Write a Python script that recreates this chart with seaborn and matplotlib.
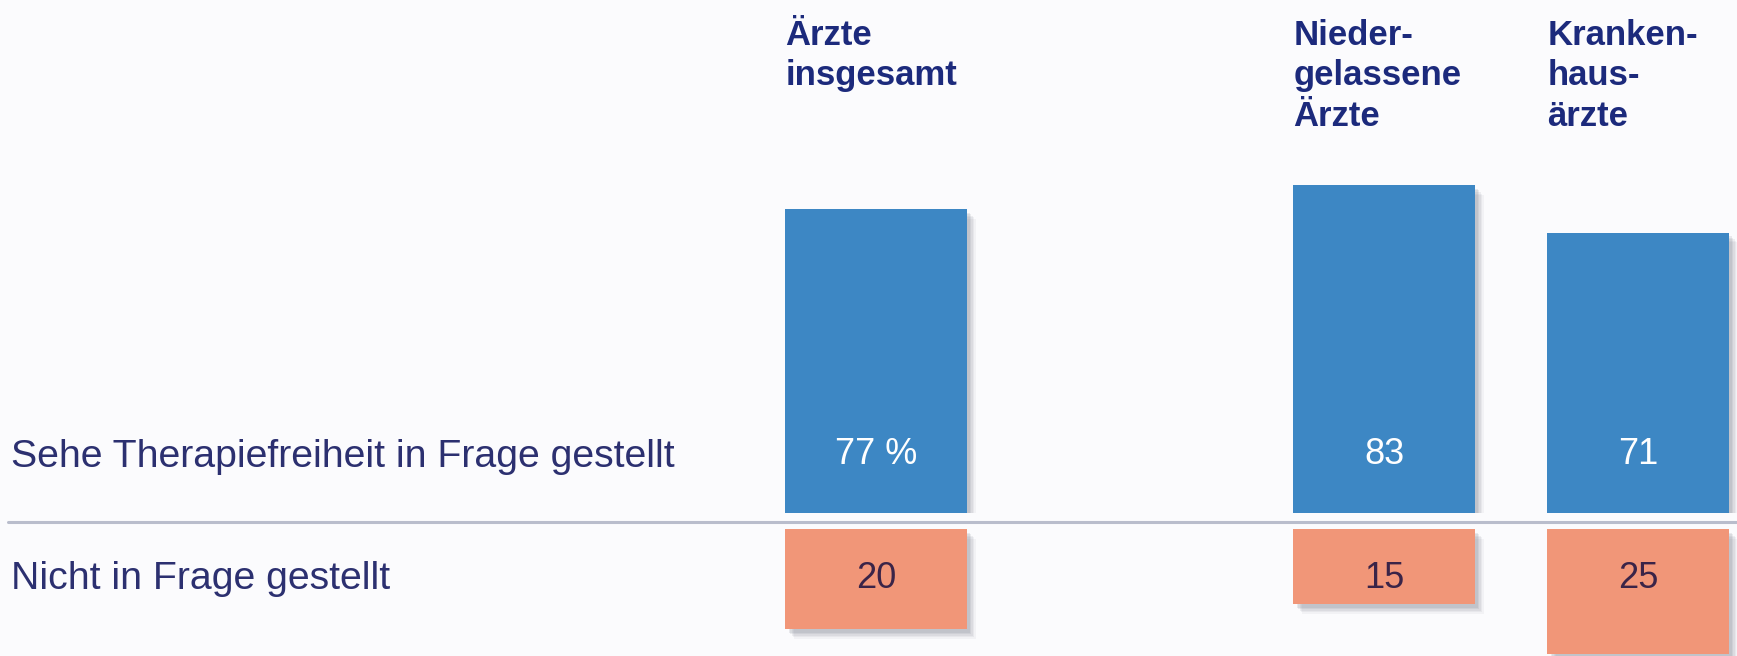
import matplotlib
matplotlib.use("Agg")
import matplotlib.pyplot as plt
import seaborn as sns
import pandas as pd
from matplotlib import font_manager as fm, patheffects as pe
from matplotlib.transforms import blended_transform_factory
from matplotlib.lines import Line2D

# ---- data ----
groups = ["Ärzte insgesamt", "Niedergelassene Ärzte", "Krankenhausärzte"]
header_labels = ["Ärzte\ninsgesamt", "Nieder-\ngelassene\nÄrzte", "Kranken-\nhaus-\närzte"]
questioned = [77, 83, 71]
not_questioned = [20, 15, 25]
top_value_labels = ["77 %", "83", "71"]
bottom_value_labels = ["20", "15", "25"]
row_labels = ["Sehe Therapiefreiheit in Frage gestellt", "Nicht in Frage gestellt"]

# ---- style ----
BLUE = "#3d87c4"
ORANGE = "#f19678"
NAVY = "#1c2a7c"
ROWTXT = "#2c3070"
BG = "#fbfbfd"

def has_font(name):
    try:
        fm.findfont(fm.FontProperties(family=name), fallback_to_default=False)
        return True
    except Exception:
        return False

NARROW = has_font("Liberation Sans Narrow")
light_family = ["Liberation Sans Narrow"] if NARROW else ["Liberation Sans"]
row_size = 34 if NARROW else 28.3
val_size = 31 if NARROW else 26

sns.set_theme(style="white")
plt.rcParams["font.family"] = ["Liberation Sans", "DejaVu Sans"]

W, H = 1737, 656
fig = plt.figure(figsize=(W / 100, H / 100), dpi=100, facecolor=BG)

df = pd.DataFrame({"group": groups, "questioned": questioned, "not_questioned": not_questioned})
order = [groups[0], " ", groups[1], groups[2]]
bar_w = 0.713
unit = 254.0
left_px = 749
xlim = (-0.5, -0.5 + (W - left_px) / unit)

ax_top = fig.add_axes([left_px / W, (H - 513) / H, (W - left_px) / W, (513 - 140) / H])
ax_bot = fig.add_axes([left_px / W, 0, (W - left_px) / W, (656 - 529) / H])

sns.barplot(data=df, x="group", y="questioned", order=order, color=BLUE,
            saturation=1, width=bar_w, ax=ax_top, errorbar=None)
sns.barplot(data=df, x="group", y="not_questioned", order=order, color=ORANGE,
            saturation=1, width=bar_w, ax=ax_bot, errorbar=None)

ax_top.set_xlim(*xlim)
ax_bot.set_xlim(*xlim)
ax_top.set_ylim(0, 373 / 3.95)
ax_bot.set_ylim(127 / 5.0, 0)

# soft drop shadow made of stacked translucent offsets
shadow = [pe.SimplePatchShadow(offset=(o, -o * 1.1), shadow_rgbFace="#7d828f", alpha=a)
          for o, a in [(6.5, 0.07), (5.5, 0.09), (4.5, 0.11), (3.5, 0.13), (2.5, 0.15)]]
shadow.append(pe.Normal())
for ax in (ax_top, ax_bot):
    ax.set_axis_off()
    ax.patch.set_alpha(0)
    for p in ax.patches:
        p.set_linewidth(0)
        p.set_path_effects(shadow)

pos = {g: order.index(g) for g in groups}

# value labels
tr_top = blended_transform_factory(ax_top.transData, fig.transFigure)
tr_bot = blended_transform_factory(ax_bot.transData, fig.transFigure)
for g, lab in zip(groups, top_value_labels):
    ax_top.text(pos[g], 1 - 455 / H, lab, transform=tr_top, ha="center", va="center",
                color="white", fontsize=val_size, family=light_family)
for g, lab in zip(groups, bottom_value_labels):
    ax_bot.text(pos[g], 1 - 578 / H, lab, transform=tr_bot, ha="center", va="center",
                color="#3a2448", fontsize=val_size, family=light_family)

# column headers
for g, lab in zip(groups, header_labels):
    ax_top.text(pos[g] - bar_w / 2, 1 - 19 / H, lab, transform=tr_top, ha="left", va="top",
                color=NAVY, fontsize=25, fontweight="bold", linespacing=1.28,
                family=["Liberation Sans", "DejaVu Sans"])

# row labels
fig.text(11 / W, 1 - 457 / H, row_labels[0], ha="left", va="center", color=ROWTXT,
         fontsize=row_size, family=light_family)
fig.text(11 / W, 1 - 579 / H, row_labels[1], ha="left", va="center", color=ROWTXT,
         fontsize=row_size, family=light_family)

# separator line
fig.add_artist(Line2D([8 / W, 1], [1 - 522 / H, 1 - 522 / H], transform=fig.transFigure,
                      color="#b9bdcc", linewidth=2.2, zorder=0.5))

fig.savefig("out.png", dpi=100, facecolor=BG)
